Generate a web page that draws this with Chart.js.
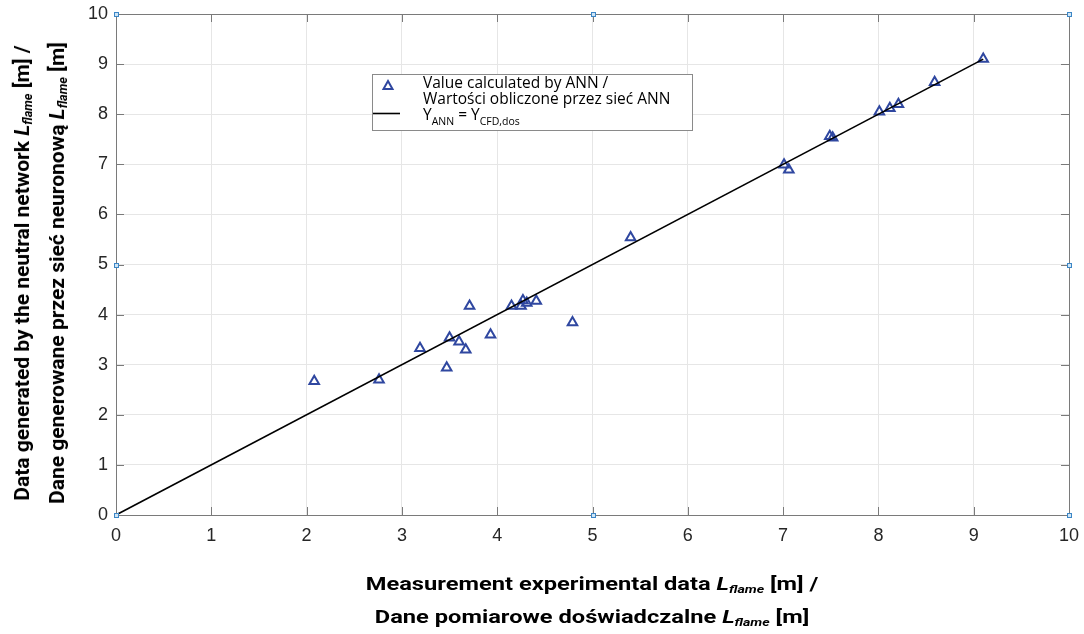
<!DOCTYPE html>
<html>
<head>
<meta charset="utf-8">
<script src="https://cdn.jsdelivr.net/npm/chart.js@4.4.1/dist/chart.umd.min.js"></script>
<style>
    html, body { margin: 0; padding: 0; background: #fff; }
    #wrap { position: relative; width: 1084px; height: 634px; }
    canvas { position: absolute; left: 0; top: 0; }
    .axis-title {
        position: absolute;
        font-family: Roboto, sans-serif;
        font-weight: bold;
        color: #000;
        text-align: center;
        white-space: nowrap;
    }
    .axis-title i sub { font-size: 0.6em; vertical-align: -0.25em; line-height: 0; }
    #xtitle { font-size: 19px; line-height: 33px; transform: translate(-50%, -50%) scaleX(1.245); }
    #ytitle { font-size: 21px; line-height: 35px; transform: translate(-50%, -50%) rotate(-90deg); }
</style>
</head>
<body>
<div id="wrap">
    <canvas id="chart" width="1084" height="634"></canvas>
    <div class="axis-title" id="xtitle" style="left:592px; top:600px;">
        Measurement experimental data <i>L<sub>flame</sub></i> [m] /<br>
        Dane pomiarowe doświadczalne <i>L<sub>flame</sub></i> [m]
    </div>
    <div class="axis-title" id="ytitle" style="left:40px; top:273px;">
        Data generated by the neutral network <i>L<sub>flame</sub></i> [m] /<br>
        Dane generowane przez sieć neuronową <i>L<sub>flame</sub></i> [m]
    </div>
</div>
<script>
const measured = [2.08, 2.76, 3.19, 3.47, 3.50, 3.60, 3.67, 3.71, 3.93, 4.15, 4.25, 4.27, 4.31, 4.41, 4.79,
    5.40, 7.01, 7.06, 7.49, 7.52, 8.01, 8.12, 8.21, 8.59, 9.10];
const annValues = [2.67, 2.70, 3.33, 2.94, 3.54, 3.46, 3.30, 4.17, 3.60, 4.17, 4.17, 4.28, 4.23, 4.27, 3.84,
    5.54, 6.99, 6.89, 7.56, 7.53, 8.05, 8.12, 8.20, 8.64, 9.10];
// reference line Y_ANN = Y_CFD,dos
const lineX = [0, 9.1];
const lineY = [0, 9.1];
const tickValues = [0, 1, 2, 3, 4, 5, 6, 7, 8, 9, 10];

const blue = "#2f47a0";
const axisGray = "#7a7a7a";

// legend drawn by hand because of the two-line label and subscripts
const legendPlugin = {
    id: "boxLegend",
    afterDraw(chart) {
        const ctx = chart.ctx;
        const x0 = 372, y0 = 74, w = 320, h = 56;
        ctx.save();
        ctx.fillStyle = "#fff";
        ctx.fillRect(x0, y0, w, h);
        ctx.strokeStyle = "#8a8a8a";
        ctx.lineWidth = 1;
        ctx.strokeRect(x0 + 0.5, y0 + 0.5, w, h);

        // triangle marker
        ctx.strokeStyle = blue;
        ctx.lineWidth = 2;
        ctx.beginPath();
        ctx.moveTo(388, 81);
        ctx.lineTo(392.5, 89);
        ctx.lineTo(383.5, 89);
        ctx.closePath();
        ctx.stroke();

        // line sample
        ctx.strokeStyle = "#000";
        ctx.lineWidth = 1.6;
        ctx.beginPath();
        ctx.moveTo(373, 113.5);
        ctx.lineTo(400, 113.5);
        ctx.stroke();

        ctx.fillStyle = "#000";
        ctx.textBaseline = "alphabetic";
        const big = "15.5px 'Open Sans', sans-serif";
        const small = "10.5px 'Open Sans', sans-serif";
        ctx.font = big;
        ctx.fillText("Value calculated by ANN /", 423, 88);
        ctx.fillText("Wartości obliczone przez sieć ANN", 423, 104);
        let x = 423;
        const parts = [["Y", big, 0], ["ANN", small, 5], [" = Y", big, 0], ["CFD,dos", small, 5]];
        parts.forEach(p => {
            ctx.font = p[1];
            ctx.fillText(p[0], x, 120 + p[2]);
            x += ctx.measureText(p[0]).width;
        });
        ctx.restore();
    }
};

// box, inward ticks and the little selection handles
const framePlugin = {
    id: "frame",
    afterDatasetsDraw(chart) {
        const ctx = chart.ctx;
        const a = chart.chartArea;
        const xs = chart.scales.x, ys = chart.scales.y;
        ctx.save();
        ctx.strokeStyle = axisGray;
        ctx.lineWidth = 1;
        ctx.beginPath();
        ctx.rect(a.left + 0.5, a.top + 0.5, a.right - a.left, a.bottom - a.top);
        tickValues.forEach(v => {
            const px = Math.round(xs.getPixelForValue(v)) + 0.5;
            const py = Math.round(ys.getPixelForValue(v)) + 0.5;
            ctx.moveTo(px, a.bottom); ctx.lineTo(px, a.bottom - 8);
            ctx.moveTo(px, a.top); ctx.lineTo(px, a.top + 8);
            ctx.moveTo(a.left, py); ctx.lineTo(a.left + 8, py);
            ctx.moveTo(a.right, py); ctx.lineTo(a.right - 8, py);
        });
        ctx.stroke();

        const mx = (a.left + a.right) / 2, my = (a.top + a.bottom) / 2;
        const handles = [[a.left, a.top], [mx, a.top], [a.right, a.top], [a.left, my],
            [a.right, my], [a.left, a.bottom], [mx, a.bottom], [a.right, a.bottom]];
        ctx.fillStyle = "#cfe6f7";
        ctx.strokeStyle = "#3c86c6";
        handles.forEach(h => {
            ctx.fillRect(Math.round(h[0]) - 2, Math.round(h[1]) - 2, 5, 5);
            ctx.strokeRect(Math.round(h[0]) - 1.5, Math.round(h[1]) - 1.5, 4, 4);
        });
        ctx.restore();
    }
};

const ctx = document.getElementById("chart").getContext("2d");

new Chart(ctx, {
    type: "scatter",
    data: {
        datasets: [{
            label: "Y_ANN = Y_CFD,dos",
            data: lineX.map((x, i) => ({ x: x, y: lineY[i] })),
            showLine: true,
            borderColor: "#000",
            borderWidth: 1.6,
            pointRadius: 0
        }, {
            label: "Value calculated by ANN",
            data: measured.map((x, i) => ({ x: x, y: annValues[i] })),
            pointStyle: "triangle",
            pointRadius: 5.5,
            borderColor: blue,
            borderWidth: 2,
            backgroundColor: "rgba(0,0,0,0)"
        }]
    },
    options: {
        responsive: false,
        animation: false,
        layout: { padding: { top: 14, right: 15, left: 0, bottom: 0 } },
        scales: {
            x: {
                min: 0, max: 10,
                afterBuildTicks: s => { s.ticks = tickValues.map(v => ({ value: v })); },
                afterFit: s => { s.height = 119; s.paddingLeft = 0; s.paddingRight = 0; },
                grid: { color: "#e6e6e6", drawTicks: false },
                border: { display: false },
                ticks: {
                    padding: 10,
                    color: "#262626",
                    font: { family: "'Liberation Sans', Arial, sans-serif", size: 18 }
                }
            },
            y: {
                min: 0, max: 10,
                afterBuildTicks: s => { s.ticks = tickValues.map(v => ({ value: v })); },
                afterFit: s => { s.width = 116; s.paddingTop = 0; s.paddingBottom = 0; },
                grid: { color: "#e6e6e6", drawTicks: false },
                border: { display: false },
                ticks: {
                    padding: 8,
                    color: "#262626",
                    font: { family: "'Liberation Sans', Arial, sans-serif", size: 18 }
                }
            }
        },
        plugins: {
            legend: { display: false },
            tooltip: { enabled: false }
        }
    },
    plugins: [framePlugin, legendPlugin]
});
</script>
</body>
</html>
